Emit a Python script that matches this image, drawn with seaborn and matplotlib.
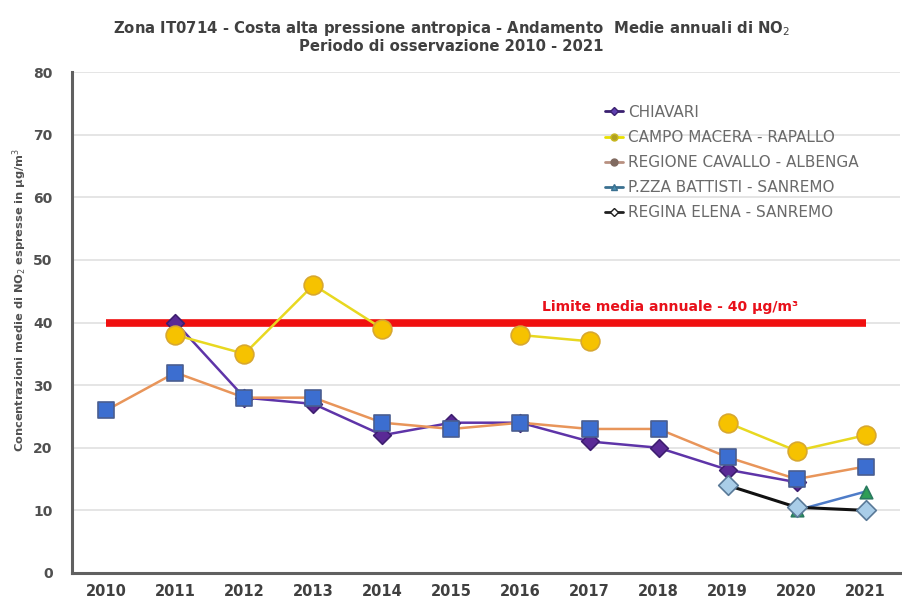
import numpy as np
import pandas as pd
import matplotlib
matplotlib.use("Agg")
import matplotlib.pyplot as plt
from matplotlib.lines import Line2D
import seaborn as sns

years = list(range(2010, 2022))
nan = np.nan
chiavari = [nan, 40, 28, 27, 22, 24, 24, 21, 20, 16.5, 14.5, nan]
rapallo = [nan, 38, 35, 46, 39, nan, 38, 37, nan, 24, 19.5, 22]
albenga = [26, 32, 28, 28, 24, 23, 24, 23, 23, 18.5, 15, 17]
battisti = [nan, nan, nan, nan, nan, nan, nan, nan, nan, nan, 10, 13]
regina = [nan, nan, nan, nan, nan, nan, nan, nan, nan, 14, 10.5, 10]
limit_value = 40
station_names = ["CHIAVARI", "CAMPO MACERA - RAPALLO", "REGIONE CAVALLO - ALBENGA",
                 "P.ZZA BATTISTI - SANREMO", "REGINA ELENA - SANREMO"]

sns.set_theme(style="white")
plt.rcParams["font.family"] = ["DejaVu Sans"]

fig = plt.figure(figsize=(9.03, 6.0), dpi=100)
ax = fig.add_axes([0.0797, 0.045, 0.917, 0.835])

def to_frame(values):
    df = pd.DataFrame({"year": years, "value": values})
    # consecutive non-missing runs become separate line segments
    df["seg"] = df["value"].isna().cumsum()
    return df.dropna()

styles = {
    "CHIAVARI": dict(line="#5E34A8", marker="D", mfc="#5A2A96", mec="#3E1E70", ms=9, lw=1.8, z=3),
    "CAMPO MACERA - RAPALLO": dict(line="#E8D820", marker="o", mfc="#F6C200", mec="#D8A830", ms=13.5, lw=1.8, z=4),
    "REGIONE CAVALLO - ALBENGA": dict(line="#E8955A", marker="s", mfc="#3C6ED0", mec="#4A5E90", ms=11.5, lw=1.8, z=5),
    "P.ZZA BATTISTI - SANREMO": dict(line="#4E7CC8", marker="^", mfc="#2E9E56", mec="#2A7A60", ms=9, lw=1.8, z=6),
    "REGINA ELENA - SANREMO": dict(line="#111111", marker="D", mfc="#A9CDE8", mec="#5A7A98", ms=10, lw=2.2, z=7),
}
series = dict(zip(station_names, [chiavari, rapallo, albenga, battisti, regina]))

# annual limit line
ax.plot([2010, 2021], [limit_value, limit_value], color="#F01010", lw=5.5, zorder=2.5,
        solid_capstyle="butt")
ax.text(2018.17, limit_value + 1.3, "Limite media annuale - 40 µg/m³", color="#E8101A",
        fontsize=10.1, fontweight="bold", ha="center", va="bottom")

for name in station_names:
    st = styles[name]
    df = to_frame(series[name])
    sns.lineplot(data=df, x="year", y="value", units="seg", estimator=None,
                 color=st["line"], lw=st["lw"], ax=ax, zorder=st["z"], legend=False)
    sns.scatterplot(data=df, x="year", y="value", marker=st["marker"],
                    color=st["mfc"], edgecolor=st["mec"], linewidth=1.2,
                    s=st["ms"] ** 2, ax=ax, zorder=st["z"] + 0.5, legend=False)

ax.set_xlim(2009.5, 2021.5)
ax.set_ylim(0, 80)
ax.set_xticks(years)
ax.set_xticklabels([str(y) for y in years], fontsize=10.5, fontweight="bold", color="#404040")
ax.set_yticks(range(0, 81, 10))
ax.set_yticklabels([str(v) for v in range(0, 81, 10)], fontsize=10, fontweight="bold", color="#505050")
ax.tick_params(axis="x", length=0, pad=8)
ax.tick_params(axis="y", length=0, pad=14)
ax.yaxis.grid(True, color="#E0E0E0", lw=1.2)
ax.xaxis.grid(False)
for s in ["top", "right"]:
    ax.spines[s].set_visible(False)
ax.spines["left"].set_color("#606060")
ax.spines["left"].set_linewidth(2.2)
ax.spines["bottom"].set_color("#606060")
ax.spines["bottom"].set_linewidth(2.2)
ax.set_xlabel("")
ax.set_ylabel("Concentrazioni medie di NO$_2$ espresse in µg/m$^3$", fontsize=8.2,
              fontweight="bold", color="#505050")
ax.yaxis.set_label_coords(-0.052, 0.545)

fig.text(0.5, 0.952, "Zona IT0714 - Costa alta pressione antropica - Andamento  Medie annuali di NO$_2$",
         fontsize=10.7, fontweight="bold", color="#404040", ha="center", va="center")
fig.text(0.5, 0.923, "Periodo di osservazione 2010 - 2021",
         fontsize=10.7, fontweight="bold", color="#404040", ha="center", va="center")

handles = [
    Line2D([], [], color="#3A2070", marker="D", ms=4, mfc="#6040B0", mec="#3A2070", lw=2),
    Line2D([], [], color="#E8E000", marker="o", ms=5, mfc="#B0A020", mec="#C8B820", lw=2),
    Line2D([], [], color="#B89080", marker="o", ms=5, mfc="#806A60", mec="#806A60", lw=2),
    Line2D([], [], color="#3A7090", marker="^", ms=5, mfc="#4A90B0", mec="#3A7090", lw=2),
    Line2D([], [], color="#202020", marker="D", ms=4, mfc="white", mec="#202020", lw=2),
]
leg = ax.legend(handles, station_names, loc="upper left", bbox_to_anchor=(0.627, 0.962),
                frameon=False, fontsize=11, handlelength=1.2, handletextpad=0.3,
                labelspacing=0.66, labelcolor="#6A6A6A")

fig.savefig("out.png", dpi=100, facecolor="white")
